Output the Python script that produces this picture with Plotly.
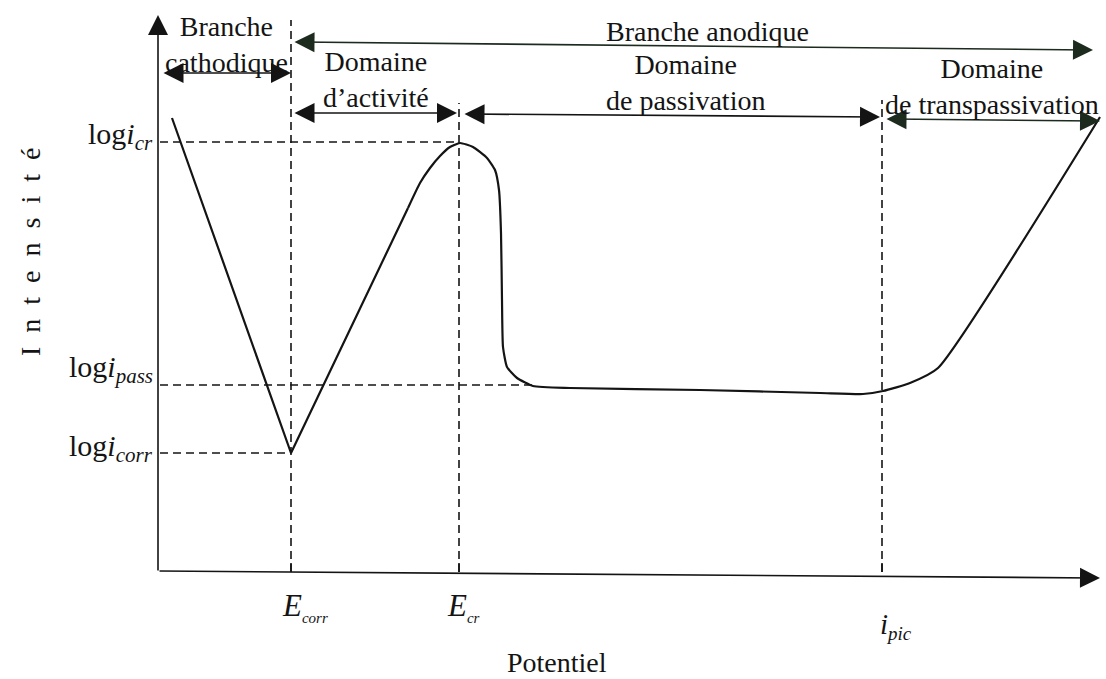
import plotly.graph_objects as go

# Characteristic values (potential in arbitrary units, current as log i)
E_CORR = 1.33
E_CR = 3.01
E_PIC = 7.24
LOG_I_CR = 4.30
LOG_I_PASS = 1.87
LOG_I_CORR = 1.19

# Cathodic branch and linear part of the active domain
potential_lin = [0.14, 1.33, 2.50]
log_i_lin = [4.54, 1.19, 3.64]

# Active peak, passive plateau and transpassive rise
potential_curve = [2.50, 2.62, 2.72, 2.82, 2.92, 3.02, 3.15, 3.29, 3.37, 3.41, 3.43,
                   3.44, 3.45, 3.49, 3.59, 3.75, 4.12, 5.42, 6.62, 7.05, 7.25, 7.52,
                   7.80, 9.42]
log_i_curve = [3.64, 3.89, 4.04, 4.16, 4.25, 4.29, 4.25, 4.14, 4.02, 3.82, 3.39,
               2.72, 2.25, 2.05, 1.94, 1.86, 1.84, 1.82, 1.79, 1.78, 1.81, 1.89,
               2.04, 4.55]

FONT = "Liberation Serif"
INK = "#141414"

fig = go.Figure()

# Dashed guide lines
dash = dict(color=INK, width=1.6, dash="8px,5px")
guides = [
    ([0.02, E_CR], [LOG_I_CR, LOG_I_CR]),
    ([0.02, 3.75], [LOG_I_PASS, LOG_I_PASS]),
    ([0.02, E_CORR], [LOG_I_CORR, LOG_I_CORR]),
    ([E_CORR, E_CORR], [0.0, 5.52]),
    ([E_CR, E_CR], [0.0, 4.69]),
    ([E_PIC, E_PIC], [0.0, 4.72]),
]
for gx, gy in guides:
    fig.add_trace(go.Scatter(x=gx, y=gy, mode="lines", line=dash,
                             hoverinfo="skip", showlegend=False))

# Polarisation curve
fig.add_trace(go.Scatter(x=potential_lin, y=log_i_lin, mode="lines",
                         line=dict(color=INK, width=2.2), showlegend=False))
fig.add_trace(go.Scatter(x=potential_curve, y=log_i_curve, mode="lines",
                         line=dict(color=INK, width=2.2, shape="spline", smoothing=0.5),
                         showlegend=False))


def arrow(x0, y0, x1, y1, both=True, color=INK):
    fig.add_annotation(x=x1, y=y1, ax=x0, ay=y0, xref="x", yref="y",
                       axref="x", ayref="y", text="", showarrow=True,
                       arrowhead=2, arrowsize=2.5, arrowwidth=1.6,
                       startarrowhead=2, startarrowsize=2.5,
                       arrowside="end+start" if both else "end",
                       arrowcolor=color, standoff=0, startstandoff=0)


# Axes
arrow(0.0, 0.0, 0.0, 5.57, both=False)
arrow(0.0, 0.01, 9.42, -0.06, both=False)

# Domain arrows
arrow(0.04, 4.99, E_CORR, 4.99)
arrow(E_CORR + 0.02, 5.30, 9.35, 5.22, color="#1d2b1f")
arrow(E_CORR + 0.02, 4.59, E_CR - 0.02, 4.59)
arrow(E_CR + 0.04, 4.58, E_PIC - 0.02, 4.55)
arrow(E_PIC + 0.03, 4.53, 9.42, 4.51, color="#1d2b1f")

# Small ticks on the potential axis
for xv in (E_CORR, E_CR, E_PIC):
    fig.add_trace(go.Scatter(x=[xv, xv], y=[0.0, 0.09], mode="lines",
                             line=dict(color=INK, width=1.6), showlegend=False))


def label(x, y, text, size=28, xanchor="center", angle=0):
    fig.add_annotation(x=x, y=y, xref="x", yref="y", text=text, showarrow=False,
                       xanchor=xanchor, yanchor="middle", textangle=angle,
                       font=dict(family=FONT, size=size, color=INK))


label(0.68, 5.28, "Branche<br>cathodique")
label(5.49, 5.41, "Branche anodique")
label(2.18, 4.93, "Domaine<br>d’activité")
label(5.27, 4.895, "Domaine<br>de passivation")
label(8.34, 4.86, "Domaine<br>de transpassivation")

label(-0.03, 4.36, "log<i>i</i><sub><i>cr</i></sub>", size=30, xanchor="right")
label(-0.03, 2.03, "log<i>i</i><sub><i>pass</i></sub>", size=30, xanchor="right")
label(-0.03, 1.24, "log<i>i</i><sub><i>corr</i></sub>", size=30, xanchor="right")

label(1.47, -0.35, "<i>E</i><sub><span style='font-size:15px'><i>corr</i></span></sub>", size=31)
label(3.05, -0.35, "<i>E</i><sub><span style='font-size:15px'><i>cr</i></span></sub>", size=31)
label(7.38, -0.54, "<i>i</i><sub><span style='font-size:19px'><i>pic</i></span></sub>", size=29)

label(3.99, -0.90, "Potentiel", size=28)
label(-1.28, 3.2, "&nbsp;&nbsp;".join("Intensité"), size=28, angle=-90)

fig.update_layout(
    width=1106, height=679,
    margin=dict(l=0, r=0, t=0, b=0),
    paper_bgcolor="white", plot_bgcolor="white",
    xaxis=dict(range=[-1.58, 9.48], visible=False, fixedrange=True),
    yaxis=dict(range=[-1.07, 5.72], visible=False, fixedrange=True),
    showlegend=False,
)

fig.write_html("out.html")
